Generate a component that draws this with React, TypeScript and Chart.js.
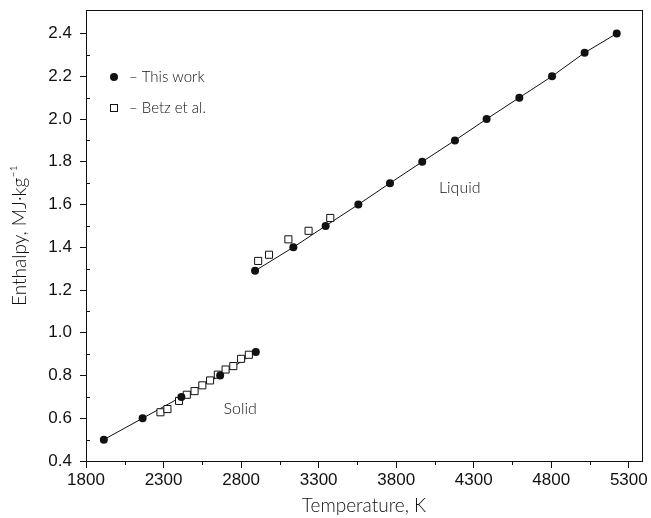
import React, { useEffect, useRef } from 'react';
import { Chart, registerables } from 'chart.js';

Chart.register(...registerables);

// "This work" — solid phase
const solidWorkT = [1915, 2165, 2415, 2665, 2895];
const solidWorkH = [0.5, 0.6, 0.7, 0.8, 0.91];
// "This work" — liquid phase
const liquidWorkT = [2890, 3137, 3345, 3556, 3760, 3968, 4179, 4383, 4594, 4805, 5015, 5222];
const liquidWorkH = [1.29, 1.4, 1.5, 1.6, 1.7, 1.8, 1.9, 2.0, 2.1, 2.2, 2.31, 2.4];
// Betz et al.
const betzT = [2280, 2325, 2400, 2450, 2500, 2550, 2600, 2650, 2700, 2750, 2800, 2850, 2910, 2980, 3105, 3235, 3375];
const betzH = [0.628, 0.643, 0.681, 0.71, 0.727, 0.754, 0.777, 0.804, 0.828, 0.844, 0.878, 0.897, 1.336, 1.365, 1.437, 1.477, 1.537];

const xTicks = [1800, 2300, 2800, 3300, 3800, 4300, 4800, 5300];
const xMinorTicks = [2050, 2550, 3050, 3550, 4050, 4550, 5050];
const yTicks = [0.4, 0.6, 0.8, 1.0, 1.2, 1.4, 1.6, 1.8, 2.0, 2.2, 2.4];
const yMinorTicks = [0.5, 0.7, 0.9, 1.1, 1.3, 1.5, 1.7, 1.9, 2.1, 2.3];

const xTitle = 'Temperature, K';
const yTitle = 'Enthalpy, MJ\u00B7kg\u207B\u00B9';
const legendWork = '\u2013 This work';
const legendBetz = '\u2013 Betz et al.';
const labelLiquid = 'Liquid';
const labelSolid = 'Solid';

const TEXT_FONT = 'Lato, "DejaVu Sans", sans-serif';
const TICK_FONT = '"Liberation Sans", Arial, sans-serif';
const INK = '#111';

const toXY = (xs: number[], ys: number[]) => xs.map((x, i) => ({ x, y: ys[i] }));

const decorPlugin = {
  id: 'decor',
  afterDraw(chart: any) {
    const { ctx, chartArea: a, scales } = chart;
    const xs = scales.x;
    const ys = scales.y;
    ctx.save();
    ctx.strokeStyle = INK;
    ctx.lineWidth = 1;
    // frame
    ctx.strokeRect(Math.round(a.left) + 0.5, Math.round(a.top) + 0.5, Math.round(a.right - a.left), Math.round(a.bottom - a.top));
    // minor ticks
    ctx.beginPath();
    xMinorTicks.forEach((v) => {
      const px = Math.round(xs.getPixelForValue(v)) + 0.5;
      ctx.moveTo(px, a.bottom);
      ctx.lineTo(px, a.bottom + 4);
    });
    yMinorTicks.forEach((v) => {
      const py = Math.round(ys.getPixelForValue(v)) + 0.5;
      ctx.moveTo(a.left, py);
      ctx.lineTo(a.left + 4, py);
    });
    ctx.stroke();

    // annotations
    ctx.fillStyle = INK;
    ctx.font = `300 16px ${TEXT_FONT}`;
    ctx.textAlign = 'center';
    ctx.textBaseline = 'middle';
    ctx.fillText(labelLiquid, xs.getPixelForValue(4210), ys.getPixelForValue(1.676));
    ctx.fillText(labelSolid, xs.getPixelForValue(2794), ys.getPixelForValue(0.642));

    // legend
    const lx = a.left + 28;
    const ly1 = a.top + 67;
    const ly2 = a.top + 98;
    ctx.beginPath();
    ctx.arc(lx, ly1, 4, 0, Math.PI * 2);
    ctx.fill();
    ctx.fillStyle = '#fff';
    ctx.fillRect(lx - 3.5, ly2 - 3.5, 7, 7);
    ctx.strokeRect(lx - 3.5, ly2 - 3.5, 7, 7);
    ctx.fillStyle = INK;
    ctx.textAlign = 'left';
    ctx.font = `300 15px ${TEXT_FONT}`;
    ctx.fillText(legendWork, lx + 15, ly1);
    ctx.fillText(legendBetz, lx + 15, ly2);
    ctx.restore();
  },
};

export default function App() {
  const canvasRef = useRef<HTMLCanvasElement | null>(null);

  useEffect(() => {
    if (!canvasRef.current) return;
    const chart = new Chart(canvasRef.current, {
      type: 'scatter',
      data: {
        datasets: [
          {
            label: 'solid fit',
            data: toXY(solidWorkT, solidWorkH),
            showLine: true,
            borderColor: INK,
            borderWidth: 1,
            pointRadius: 0,
            order: 3,
          },
          {
            label: 'liquid fit',
            data: toXY(liquidWorkT, liquidWorkH),
            showLine: true,
            borderColor: INK,
            borderWidth: 1,
            pointRadius: 0,
            order: 3,
          },
          {
            label: 'Betz et al.',
            data: toXY(betzT, betzH),
            pointStyle: 'rect',
            pointRadius: 5,
            backgroundColor: '#fff',
            borderColor: INK,
            borderWidth: 1,
            order: 2,
          },
          {
            label: 'This work',
            data: [...toXY(solidWorkT, solidWorkH), ...toXY(liquidWorkT, liquidWorkH)],
            pointStyle: 'circle',
            pointRadius: 4,
            backgroundColor: INK,
            borderColor: INK,
            borderWidth: 0,
            order: 1,
          },
        ],
      },
      options: {
        animation: false,
        responsive: false,
        maintainAspectRatio: false,
        layout: { padding: { top: 10, right: 9, left: 0, bottom: 0 } },
        plugins: {
          legend: { display: false },
          tooltip: { enabled: false },
        },
        scales: {
          x: {
            type: 'linear',
            min: 1800,
            max: 5385,
            afterBuildTicks: (s: any) => {
              s.ticks = xTicks.map((v) => ({ value: v }));
            },
            afterFit: (s: any) => {
              s.height = 57;
              s.paddingLeft = 0;
              s.paddingRight = 0;
            },
            ticks: {
              color: INK,
              padding: 2,
              font: { family: TICK_FONT, size: 17 },
              maxRotation: 0,
              autoSkip: false,
              callback: (v: any) => String(v),
            },
            grid: { drawOnChartArea: false, drawTicks: true, tickLength: 7, color: INK },
            border: { display: true, color: INK, width: 1 },
            title: {
              display: true,
              text: xTitle,
              color: INK,
              font: { family: TEXT_FONT, size: 19, weight: '300' },
              padding: { top: 0, bottom: 1 },
            },
          },
          y: {
            type: 'linear',
            min: 0.4,
            max: 2.51,
            afterBuildTicks: (s: any) => {
              s.ticks = yTicks.map((v) => ({ value: v }));
            },
            afterFit: (s: any) => {
              s.width = 86;
              s.paddingTop = 0;
              s.paddingBottom = 0;
            },
            ticks: {
              color: INK,
              padding: 8,
              font: { family: TICK_FONT, size: 17 },
              autoSkip: false,
              callback: (v: any) => Number(v).toFixed(1),
            },
            grid: { drawOnChartArea: false, drawTicks: true, tickLength: 6, color: INK },
            border: { display: true, color: INK, width: 1 },
            title: {
              display: true,
              text: yTitle,
              color: INK,
              font: { family: TEXT_FONT, size: 19, weight: '300' },
              padding: { top: 8, bottom: 0 },
            },
          },
        },
      },
      plugins: [decorPlugin],
    });
    return () => chart.destroy();
  }, []);

  return (
    <div style={{ position: 'fixed', left: 0, top: 0, width: 651, height: 518, background: '#fff' }}>
      <canvas ref={canvasRef} width={651} height={518} style={{ display: 'block' }} />
    </div>
  );
}
